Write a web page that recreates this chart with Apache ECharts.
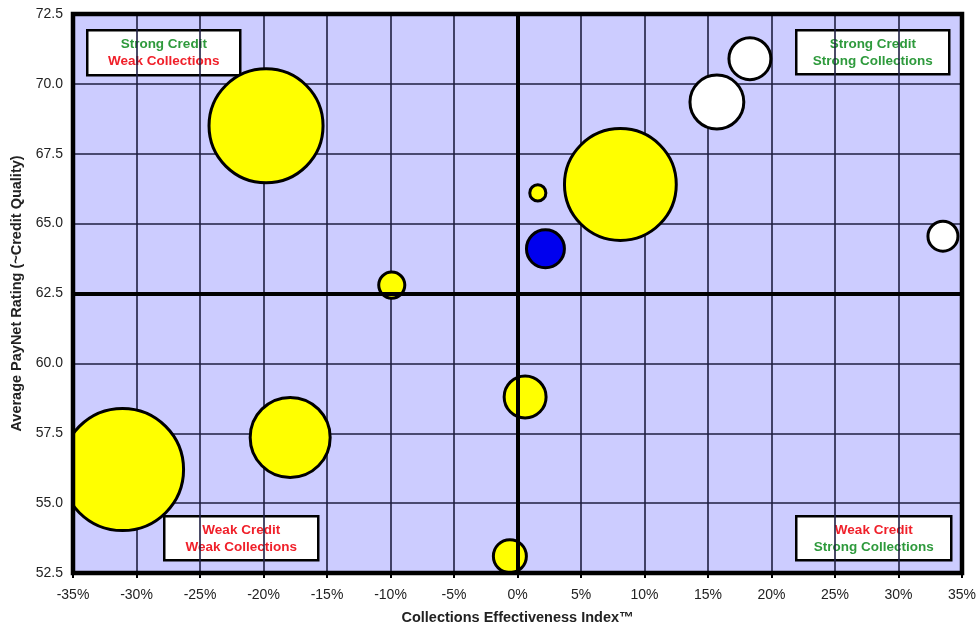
<!DOCTYPE html>
<html>
<head>
<meta charset="utf-8">
<script src="https://cdn.jsdelivr.net/npm/echarts@6/dist/echarts.min.js"></script>
<style>
  html, body { margin: 0; padding: 0; background: #ffffff; }
  #chart { width: 978px; height: 626px; }
</style>
</head>
<body>
<div id="chart"></div>
<script>
// Collections Effectiveness Index (%) vs. average PayNet rating, bubble area = exposure
const yellowCEI    = [-19.8, 8.1, 1.6, -9.9, 0.6, -17.9, -31.1, -0.6];
const yellowRating = [68.5, 66.4, 66.1, 62.8, 58.8, 57.35, 56.2, 53.1];
const yellowSize   = [130, 125, 2.6, 6.8, 17.6, 64, 149, 10.9];

const whiteCEI    = [18.3, 15.7, 33.5];
const whiteRating = [70.9, 69.35, 64.55];
const whiteSize   = [17.6, 29, 9];

const blueCEI    = [2.2];
const blueRating = [64.1];
const blueSize   = [14.4];

// Quadrant dividers
const ceiDivider = 0;
const ratingDivider = 62.5;

// Axis ranges / ticks
const xMin = -35, xMax = 35, xStep = 5;
const yMin = 52.5, yMax = 72.5, yStep = 2.5;

const xTitle = 'Collections Effectiveness Index\u2122';
const yTitle = 'Average PayNet Rating (~Credit Quality)';

const quadrantLabels = [
  { lines: [['Strong Credit', 'g'], ['Weak Collections', 'r']] },
  { lines: [['Strong Credit', 'g'], ['Strong Collections', 'g']] },
  { lines: [['Weak Credit', 'r'], ['Weak Collections', 'r']] },
  { lines: [['Weak Credit', 'r'], ['Strong Collections', 'g']] }
];

function zip(xs, ys, ss) {
  return xs.map((x, i) => [x, ys[i], ss[i]]);
}

const FONT = '"Liberation Sans", Arial, Helvetica, sans-serif';

// Plot rectangle (pixels)
const GRID = { left: 73, right: 16, top: 14, bottom: 53 };
const W = 978, H = 626;
const plotW = W - GRID.left - GRID.right;
const plotH = H - GRID.top - GRID.bottom;

function bubbleSeries(name, data, color, extra) {
  return Object.assign({
    name: name,
    type: 'scatter',
    data: data,
    yAxisIndex: 0,
    symbolSize: v => Math.sqrt(v[2]) * 10,
    itemStyle: { color: color, borderColor: '#000', borderWidth: 3, opacity: 1 },
    emphasis: { disabled: true },
    z: 3
  }, extra || {});
}

// Annotation boxes in the four quadrant corners
const boxPos = [
  { left: 86, top: 29, w: 153, h: 45 },
  { left: 795, top: 29, w: 153, h: 44 },
  { left: 163, top: 515, w: 154, h: 44 },
  { left: 795, top: 515, w: 155, h: 44 }
];
const textColors = { g: '#2e9a3c', r: '#f0202a' };

const graphics = quadrantLabels.map((q, i) => {
  const p = boxPos[i];
  return {
    type: 'group',
    left: p.left,
    top: p.top,
    z: 10,
    children: [
      {
        type: 'rect',
        shape: { x: 0, y: 0, width: p.w, height: p.h },
        style: { fill: '#ffffff', stroke: '#000', lineWidth: 2.5 }
      },
      {
        type: 'text',
        x: p.w / 2,
        y: 14,
        style: {
          text: q.lines[0][0], fill: textColors[q.lines[0][1]],
          font: 'bold 13.5px ' + FONT, textAlign: 'center', textVerticalAlign: 'middle'
        }
      },
      {
        type: 'text',
        x: p.w / 2,
        y: 31,
        style: {
          text: q.lines[1][0], fill: textColors[q.lines[1][1]],
          font: 'bold 13.5px ' + FONT, textAlign: 'center', textVerticalAlign: 'middle'
        }
      }
    ]
  };
});

// Hide bubble overflow left of the plot; the heavy frame goes on top
graphics.push({
  type: 'rect',
  z: 5,
  silent: true,
  shape: { x: 0, y: 380, width: GRID.left - 2, height: 160 },
  style: { fill: '#ffffff' }
});
graphics.push({
  type: 'rect',
  z: 6,
  silent: true,
  shape: { x: GRID.left, y: GRID.top, width: plotW, height: plotH },
  style: { fill: null, stroke: '#000', lineWidth: 4.5 }
});

const yRange = { type: 'value', min: yMin, max: yMax, interval: yStep, position: 'left' };

const chart = echarts.init(document.getElementById('chart'), null, { renderer: 'canvas' });

chart.setOption({
  animation: false,
  backgroundColor: '#ffffff',
  grid: {
    left: GRID.left, right: GRID.right, top: GRID.top, bottom: GRID.bottom,
    outerBoundsMode: 'none',
    containLabel: false,
    show: true,
    backgroundColor: '#ccccff',
    borderWidth: 0
  },
  xAxis: {
    type: 'value',
    min: xMin, max: xMax, interval: xStep,
    name: xTitle,
    nameLocation: 'middle',
    nameGap: 37,
    nameTextStyle: { fontFamily: FONT, fontWeight: 'bold', fontSize: 14.5, color: '#222' },
    axisLine: { show: false, onZero: false },
    axisTick: { show: true, length: 5, lineStyle: { color: '#000', width: 2 } },
    axisLabel: {
      formatter: v => v + '%',
      fontFamily: FONT, fontSize: 14, color: '#222', margin: 15
    },
    splitLine: { show: true, lineStyle: { color: '#1e1e40', width: 1.6 } }
  },
  yAxis: [
    // grid lines
    Object.assign({}, yRange, {
      axisLine: { show: false, onZero: false },
      axisTick: { show: false },
      axisLabel: { show: false },
      splitLine: { show: true, lineStyle: { color: '#1e1e40', width: 1.6 } }
    }),
    // tick labels and title, drawn above everything
    Object.assign({}, yRange, {
      z: 8,
      name: yTitle,
      nameLocation: 'middle',
      nameGap: 47,
      nameTextStyle: { fontFamily: FONT, fontWeight: 'bold', fontSize: 14.5, color: '#222' },
      axisLine: { show: false, onZero: false },
      axisTick: { show: false },
      axisLabel: {
        formatter: v => v.toFixed(1),
        fontFamily: FONT, fontSize: 14, color: '#222', margin: 10
      },
      splitLine: { show: false }
    })
  ],
  graphic: graphics,
  series: [
    bubbleSeries('Segments', zip(yellowCEI, yellowRating, yellowSize), '#ffff00', {
      markLine: {
        silent: true,
        symbol: 'none',
        label: { show: false },
        lineStyle: { color: '#000', width: 4, type: 'solid' },
        z: 5,
        data: [{ xAxis: ceiDivider }, { yAxis: ratingDivider }]
      }
    }),
    bubbleSeries('Peers', zip(whiteCEI, whiteRating, whiteSize), '#ffffff'),
    bubbleSeries('Portfolio', zip(blueCEI, blueRating, blueSize), '#0000ee')
  ]
});
</script>
</body>
</html>
